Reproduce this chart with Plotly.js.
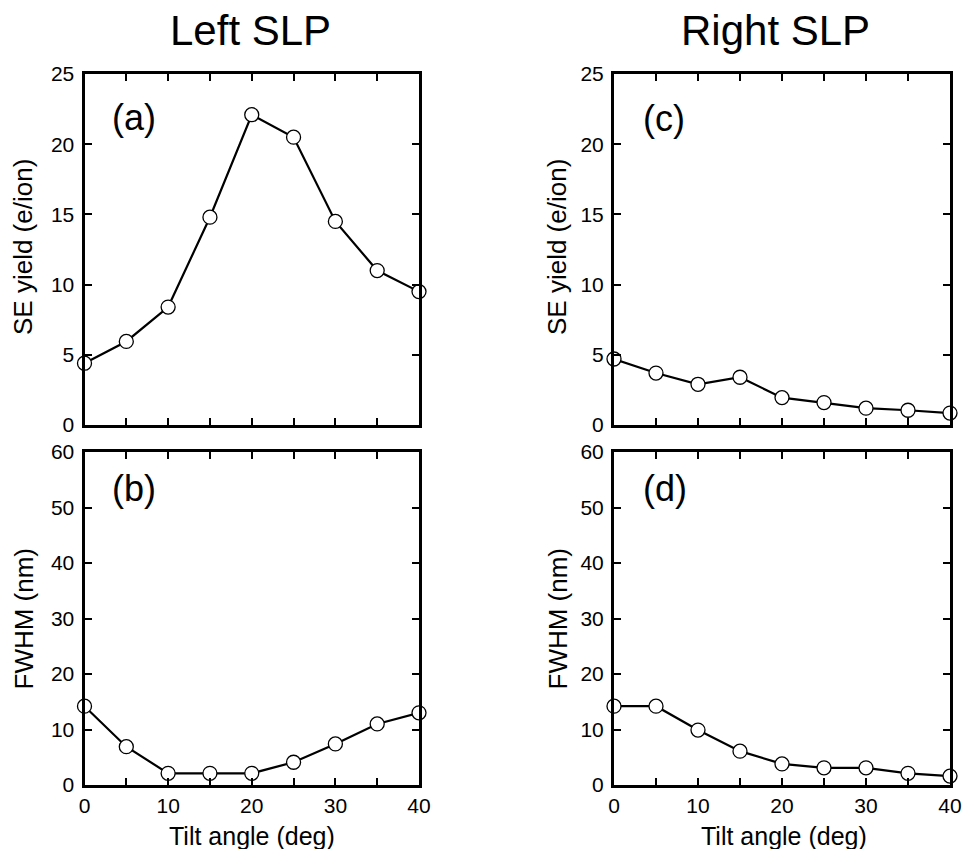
<!DOCTYPE html>
<html>
<head>
<meta charset="utf-8">
<script src="https://cdn.plot.ly/plotly-3.0.1.min.js"></script>
<style>html,body{margin:0;padding:0;background:#fff;}#chart{width:963px;height:849px;}</style>
</head>
<body>
<div id="chart"></div>
<script>
// Data
var tiltAngle = [0, 5, 10, 15, 20, 25, 30, 35, 40];
var seYieldLeft = [4.4, 5.95, 8.4, 14.8, 22.1, 20.5, 14.5, 11.0, 9.5];
var fwhmLeft = [14.2, 6.9, 2.1, 2.1, 2.1, 4.1, 7.4, 11.0, 13.0];
var seYieldRight = [4.7, 3.7, 2.9, 3.4, 1.95, 1.6, 1.2, 1.05, 0.85];
var fwhmRight = [14.2, 14.2, 9.9, 6.1, 3.8, 3.1, 3.1, 2.1, 1.6];
var columnTitles = ["Left SLP", "Right SLP"];
var panelLabels = ["(a)", "(b)", "(c)", "(d)"];
var seYieldTitle = "SE yield (e/ion)";
var fwhmTitle = "FWHM (nm)";
var xTitle = "Tilt angle (deg)";

var W = 963, H = 849;
var FONT = "Liberation Sans, Arial, Helvetica, sans-serif";

function trace(y, xa, ya) {
  return {
    x: tiltAngle, y: y, xaxis: xa, yaxis: ya,
    type: "scatter", mode: "lines+markers",
    line: {color: "#000", width: 2.2},
    marker: {symbol: "circle", size: 14, color: "#fff", line: {color: "#000", width: 1.3}},
    cliponaxis: false, showlegend: false, hoverinfo: "x+y"
  };
}

var data = [
  trace(seYieldLeft, "x", "y"),
  trace(fwhmLeft, "x2", "y2"),
  trace(seYieldRight, "x3", "y3"),
  trace(fwhmRight, "x4", "y4")
];

// pixel geometry -> paper fractions
var colL = [84.5 / W, 419 / W];
var colR = [614 / W, 950 / W];
var rowTop = [(H - 425) / H, (H - 74) / H];
var rowBot = [(H - 785) / H, (H - 452) / H];

function xaxis(domain, anchor, showLabels) {
  return {
    domain: domain, anchor: anchor, range: [0, 40],
    showgrid: false, zeroline: false,
    showline: true, linecolor: "#000", linewidth: 3, mirror: "ticks",
    ticks: "inside", ticklen: 7, tickwidth: 2, tickcolor: "#000",
    tick0: 0, dtick: 10,
    minor: {dtick: 5, ticks: "inside", ticklen: 7, tickwidth: 2, tickcolor: "#000", showgrid: false},
    showticklabels: showLabels,
    ticklabelstandoff: 0,
    tickfont: {family: FONT, size: 21, color: "#000"},
    fixedrange: true
  };
}
function yaxis(domain, anchor, maxv, dt) {
  return {
    domain: domain, anchor: anchor, range: [0, maxv],
    showgrid: false, zeroline: false,
    showline: true, linecolor: "#000", linewidth: 3, mirror: "ticks",
    ticks: "inside", ticklen: 7, tickwidth: 2, tickcolor: "#000",
    tick0: 0, dtick: dt,
    ticklabelstandoff: 3,
    tickfont: {family: FONT, size: 21, color: "#000"},
    fixedrange: true
  };
}

var annotations = [];
function ann(text, x, y, xref, yref, opts) {
  var a = {text: text, x: x, y: y, xref: xref, yref: yref, showarrow: false,
    font: {family: FONT, size: opts.size, color: "#000"},
    xanchor: opts.xanchor || "center", yanchor: opts.yanchor || "middle"};
  if (opts.angle !== undefined) a.textangle = opts.angle;
  annotations.push(a);
}
// column titles
ann(columnTitles[0], 250 / W, 1 - 30 / H, "paper", "paper", {size: 42});
ann(columnTitles[1], 775 / W, 1 - 30 / H, "paper", "paper", {size: 42});
// panel labels
ann(panelLabels[0], 0.075, 0.875, "x domain", "y domain", {size: 36, xanchor: "left"});
ann(panelLabels[1], 0.075, 0.889, "x2 domain", "y2 domain", {size: 36, xanchor: "left"});
ann(panelLabels[2], 0.08, 0.872, "x3 domain", "y3 domain", {size: 36, xanchor: "left"});
ann(panelLabels[3], 0.08, 0.889, "x4 domain", "y4 domain", {size: 36, xanchor: "left"});
// y titles
ann(seYieldTitle, 23 / W, 1 - 247 / H, "paper", "paper", {size: 26, angle: -90});
ann(fwhmTitle, 23 / W, 1 - 618.5 / H, "paper", "paper", {size: 26, angle: -90});
ann(seYieldTitle, 557 / W, 1 - 247 / H, "paper", "paper", {size: 26, angle: -90});
ann(fwhmTitle, 557 / W, 1 - 618.5 / H, "paper", "paper", {size: 26, angle: -90});
// x titles
ann(xTitle, 252 / W, 1 - 836 / H, "paper", "paper", {size: 25});
ann(xTitle, 784 / W, 1 - 836 / H, "paper", "paper", {size: 25});

var layout = {
  width: W, height: H,
  margin: {l: 0, r: 0, t: 0, b: 0, autoexpand: false},
  paper_bgcolor: "#fff", plot_bgcolor: "#fff",
  showlegend: false,
  font: {family: FONT, color: "#000"},
  xaxis: xaxis(colL, "y", false),
  yaxis: yaxis(rowTop, "x", 25, 5),
  xaxis2: xaxis(colL, "y2", true),
  yaxis2: yaxis(rowBot, "x2", 60, 10),
  xaxis3: xaxis(colR, "y3", false),
  yaxis3: yaxis(rowTop, "x3", 25, 5),
  xaxis4: xaxis(colR, "y4", true),
  yaxis4: yaxis(rowBot, "x4", 60, 10),
  annotations: annotations
};

Plotly.newPlot("chart", data, layout, {displayModeBar: false, staticPlot: true});
</script>
</body>
</html>
